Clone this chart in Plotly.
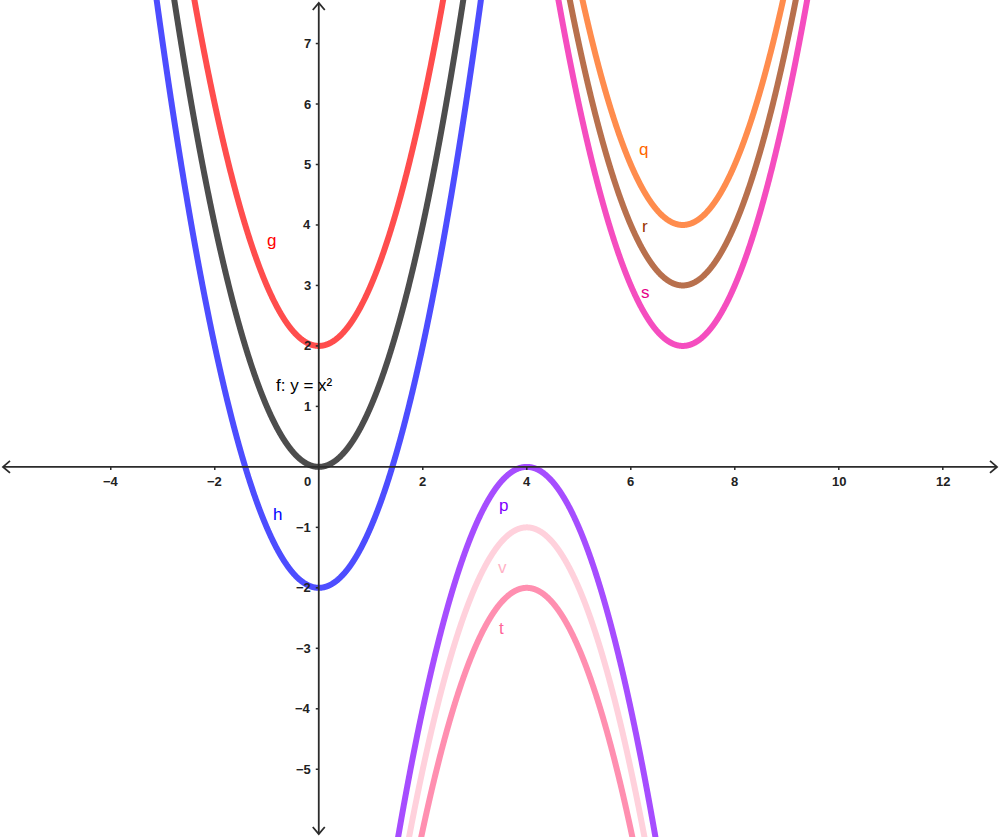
import numpy as np
import plotly.graph_objects as go

# ---- data: parabolas y = a*(x - h)^2 + k ----
names      = ["f", "g", "h", "p", "v", "t", "q", "r", "s"]
a_coef     = [1, 1, 1, -1, -1, -1, 1, 1, 1]
h_shift    = [0, 0, 0, 4, 4, 4, 7, 7, 7]
k_shift    = [0, 2, -2, 0, -1, -2, 4, 3, 2]
line_cols  = ["#4d4d4d", "#ff4d4d", "#4d4dff", "#a64dff", "#ffd1dc",
              "#ff8fb0", "#ff8c4d", "#b8704d", "#f54dbf"]
label_cols = ["#000000", "#ff0000", "#0000ff", "#8000ff", "#ffb3c6",
              "#ff6699", "#ff6600", "#993300", "#e6008a"]
label_txt  = ["f: y = x²", "g", "h", "p", "v", "t", "q", "r", "s"]

x_ticks = [-4, -2, 2, 4, 6, 8, 10, 12]
y_ticks = [-5, -4, -3, -2, -1, 1, 2, 3, 4, 5, 6, 7]

# ---- layout geometry ----
W, H = 1000, 837
X0, X1 = -6.13, 13.10
Y0, Y1 = -6.12, 7.72
px_x = W / (X1 - X0)
px_y = H / (Y1 - Y0)

label_pos = {
    "f": (-0.86, 1.34, "left"),
    "g": (-0.90, 3.74, "center"),
    "h": (-0.80, -0.78, "center"),
    "p": (3.56, -0.64, "center"),
    "v": (3.54, -1.67, "center"),
    "t": (3.52, -2.68, "center"),
    "q": (6.24, 5.24, "center"),
    "r": (6.27, 3.98, "center"),
    "s": (6.29, 2.89, "center"),
}

fig = go.Figure()
xs = np.linspace(X0, X1, 4000)
for n, a, hh, k, c in zip(names, a_coef, h_shift, k_shift, line_cols):
    ys = a * (xs - hh) ** 2 + k
    mask = (ys < Y1 + 3) & (ys > Y0 - 3)
    fig.add_trace(go.Scatter(x=xs[mask], y=ys[mask], mode="lines",
                             line=dict(color=c, width=6, simplify=False), name=n,
                             hoverinfo="skip", showlegend=False))

shapes = []
axc = "#2b2b2b"
# axes lines
shapes.append(dict(type="line", xref="x", yref="y", x0=X0 + 0.06, x1=X1 - 0.06,
                   y0=0, y1=0, line=dict(color=axc, width=1.8)))
shapes.append(dict(type="line", xref="x", yref="y", x0=0, x1=0,
                   y0=Y0 + 0.06, y1=Y1 - 0.06, line=dict(color=axc, width=1.8)))
# arrow chevrons
dxa, dya = 7 / px_x, 6 / px_y
tipR, tipL = X1 - 3 / px_x, X0 + 3 / px_x
shapes.append(dict(type="path", xref="x", yref="y",
                   path=f"M {tipR-dxa} {dya} L {tipR} 0 L {tipR-dxa} {-dya}",
                   line=dict(color=axc, width=1.8)))
shapes.append(dict(type="path", xref="x", yref="y",
                   path=f"M {tipL+dxa} {dya} L {tipL} 0 L {tipL+dxa} {-dya}",
                   line=dict(color=axc, width=1.8)))
dxb, dyb = 6 / px_x, 7 / px_y
tipT, tipB = Y1 - 3 / px_y, Y0 + 3 / px_y
shapes.append(dict(type="path", xref="x", yref="y",
                   path=f"M {-dxb} {tipT-dyb} L 0 {tipT} L {dxb} {tipT-dyb}",
                   line=dict(color=axc, width=1.8)))
shapes.append(dict(type="path", xref="x", yref="y",
                   path=f"M {-dxb} {tipB+dyb} L 0 {tipB} L {dxb} {tipB+dyb}",
                   line=dict(color=axc, width=1.8)))
# tick marks
for t in x_ticks:
    shapes.append(dict(type="line", xref="x", yref="y", x0=t, x1=t,
                       y0=0, y1=-3 / px_y, line=dict(color=axc, width=1.5)))
for t in y_ticks:
    shapes.append(dict(type="line", xref="x", yref="y", x0=0, x1=-3 / px_x,
                       y0=t, y1=t, line=dict(color=axc, width=1.5)))

annotations = []
tick_font = dict(family="Liberation Sans", size=13, color="#222222")
for t in x_ticks:
    lab = f"{t}".replace("-", "−")
    annotations.append(dict(x=t, y=0, xref="x", yref="y", text=f"<b>{lab}</b>",
                            showarrow=False, xanchor="center", yanchor="top",
                            yshift=-5, font=tick_font))
for t in y_ticks:
    lab = f"{t}".replace("-", "−")
    annotations.append(dict(x=0, y=t, xref="x", yref="y", text=f"<b>{lab}</b>",
                            showarrow=False, xanchor="right", yanchor="middle",
                            xshift=-6, font=tick_font))
annotations.append(dict(x=0, y=0, xref="x", yref="y", text="<b>0</b>",
                        showarrow=False, xanchor="right", yanchor="top",
                        xshift=-6, yshift=-5, font=tick_font))

for n, txt, c in zip(names, label_txt, label_cols):
    lx, ly, anc = label_pos[n]
    annotations.append(dict(x=lx, y=ly, xref="x", yref="y", text=txt,
                            showarrow=False, xanchor=anc, yanchor="middle",
                            font=dict(family="Liberation Sans", size=17, color=c)))

fig.update_layout(
    width=W, height=H,
    margin=dict(l=0, r=0, t=0, b=0),
    paper_bgcolor="white", plot_bgcolor="white",
    xaxis=dict(range=[X0, X1], showgrid=False, zeroline=False,
               showticklabels=False, ticks="", showline=False, fixedrange=True),
    yaxis=dict(range=[Y0, Y1], showgrid=False, zeroline=False,
               showticklabels=False, ticks="", showline=False, fixedrange=True),
    shapes=shapes, annotations=annotations, showlegend=False,
)
fig.write_html("out.html", config={"displayModeBar": False},
               post_script="document.body.style.margin='0';document.body.style.overflow='hidden';")
